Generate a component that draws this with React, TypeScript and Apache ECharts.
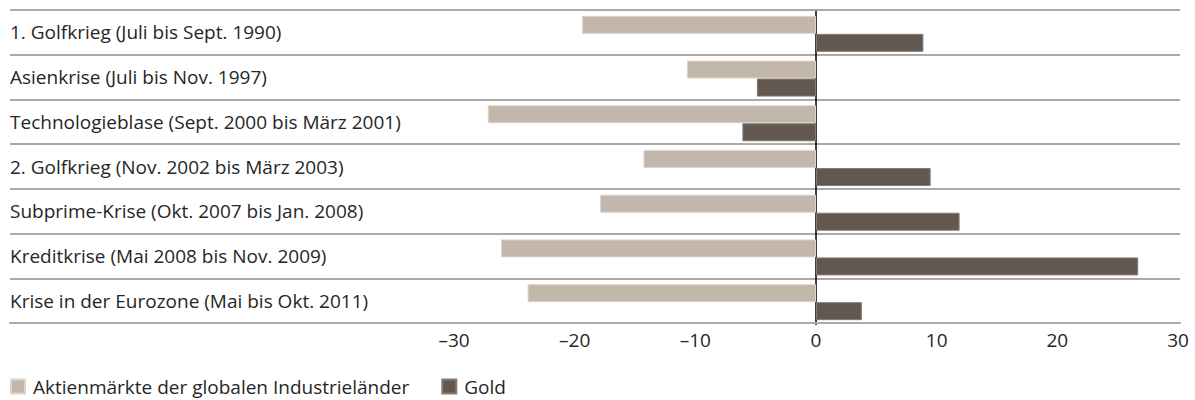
import React, { useEffect, useRef } from "react";
import * as echarts from "echarts";

const categories = [
  "1. Golfkrieg (Juli bis Sept. 1990)",
  "Asienkrise (Juli bis Nov. 1997)",
  "Technologieblase (Sept. 2000 bis März 2001)",
  "2. Golfkrieg (Nov. 2002 bis März 2003)",
  "Subprime-Krise (Okt. 2007 bis Jan. 2008)",
  "Kreditkrise (Mai 2008 bis Nov. 2009)",
  "Krise in der Eurozone (Mai bis Okt. 2011)",
];
const seriesNames = ["Aktienmärkte der globalen Industrieländer", "Gold"];
const aktien = [-19.4, -10.7, -27.2, -14.3, -17.9, -26.1, -23.9];
const gold = [8.9, -4.9, -6.1, 9.5, 11.9, 26.7, 3.8];
const xMin = -30;
const xMax = 30;
const xInterval = 10;

const FONT = "'Open Sans', sans-serif";
const TEXT = "#262626";

export default function App() {
  const ref = useRef<HTMLDivElement>(null);
  useEffect(() => {
    document.body.style.margin = "0";
    const chart = echarts.init(ref.current!, null, { renderer: "svg" });
    chart.setOption({
      animation: false,
      backgroundColor: "#ffffff",
      textStyle: { fontFamily: FONT },
      legend: {
        left: 10,
        top: 377,
        padding: 0,
        itemWidth: 14,
        itemHeight: 14,
        itemGap: 32,
        icon: "rect",
        data: seriesNames,
        textStyle: { fontSize: 19, color: TEXT, fontFamily: FONT, padding: [0, 0, 0, 3] },
      },
      grid: [
        { left: 454, right: 17, top: 11.5, height: 313, containLabel: false },
        { left: 10, right: 15, top: 10, height: 313, containLabel: false },
      ],
      xAxis: [
        {
          type: "value",
          gridIndex: 0,
          min: xMin,
          max: xMax,
          interval: xInterval,
          axisLine: { show: false },
          axisTick: { show: false },
          splitLine: { show: false },
          axisLabel: {
            fontSize: 19,
            color: TEXT,
            margin: 6,
            fontFamily: FONT,
            formatter: (v: number) => String(v).replace("-", "–"),
          },
        },
        {
          type: "value",
          gridIndex: 1,
          min: 0,
          max: 1,
          axisLine: { show: true, onZero: false, lineStyle: { color: "#aaaaaa", width: 2 } },
          axisTick: { show: false },
          splitLine: { show: false },
          axisLabel: { show: false },
        },
      ],
      yAxis: [
        {
          type: "category",
          gridIndex: 0,
          data: categories,
          inverse: true,
          axisLine: { show: true, onZero: true, lineStyle: { color: "#000", width: 1.5 } },
          axisTick: { show: false },
          axisLabel: { show: false },
          splitLine: { show: false },
        },
        {
          type: "category",
          gridIndex: 1,
          data: categories,
          inverse: true,
          axisLine: { show: false },
          axisTick: { show: false },
          splitLine: { show: true, lineStyle: { color: "#aaaaaa", width: 2 } },
          axisLabel: {
            inside: true,
            margin: 0,
            fontSize: 19,
            color: TEXT,
            fontFamily: FONT,
            padding: [2, 0, 0, 0],
          },
        },
      ],
      series: [
        {
          name: seriesNames[0],
          type: "bar",
          xAxisIndex: 0,
          yAxisIndex: 0,
          data: aktien,
          barWidth: 18,
          barGap: "0%",
          itemStyle: { color: "#c3b7ab", borderColor: "#ddd5cd", borderWidth: 1 },
        },
        {
          name: seriesNames[1],
          type: "bar",
          xAxisIndex: 0,
          yAxisIndex: 0,
          data: gold,
          barWidth: 18,
          barGap: "0%",
          itemStyle: { color: "#62584f", borderColor: "#847a72", borderWidth: 1 },
        },
      ],
    });
    return () => chart.dispose();
  }, []);
  return <div ref={ref} style={{ width: 1195, height: 400 }} />;
}
